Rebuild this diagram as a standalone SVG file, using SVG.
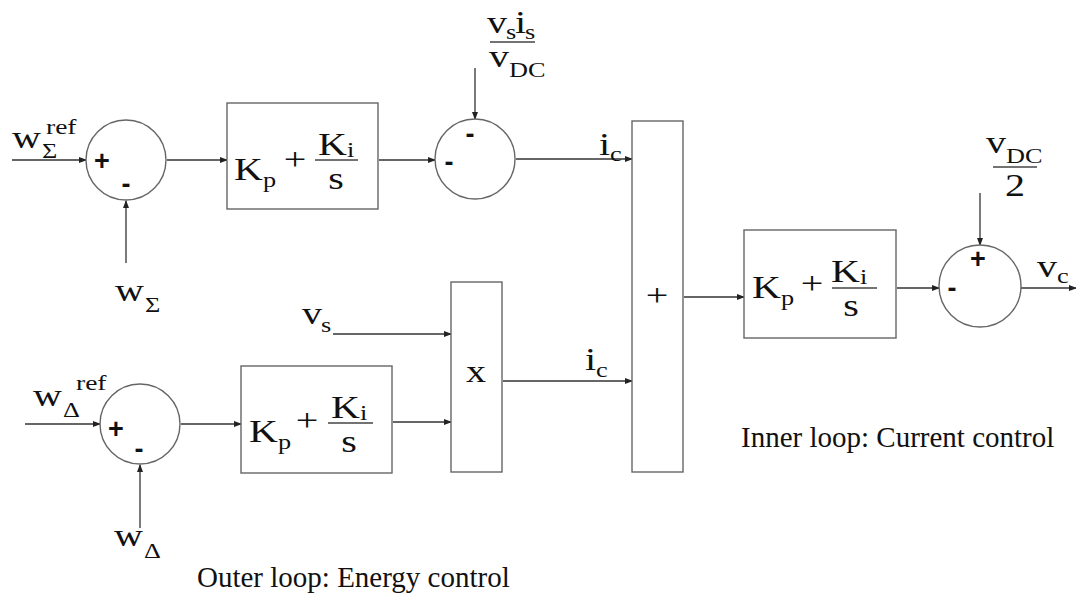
<svg xmlns="http://www.w3.org/2000/svg" width="1076" height="601" viewBox="0 0 1076 601">
<style>
.m{font-family:"Liberation Serif","Times New Roman",serif;fill:#111}
.b{font-size:32px}
.s{font-size:21px}
.sp{font-size:22px}
.sg{font-family:"Liberation Sans",Arial,sans-serif;font-size:27px;font-weight:bold;fill:#111;text-anchor:middle}
.t{font-family:"Liberation Serif","Times New Roman",serif;font-size:29px;fill:#111}
.shape{fill:#fff;stroke:#666;stroke-width:1.4}
.bar{stroke:#444;stroke-width:1.4}
.ln{stroke:#333;stroke-width:1.3;fill:none}
.mid{text-anchor:middle}
</style>
<defs>
<marker id="ah" markerWidth="8" markerHeight="6" refX="7" refY="3" orient="auto" markerUnits="userSpaceOnUse">
<path d="M0,0 L8,3 L0,6 z" fill="#222"/>
</marker>
</defs>
<rect width="1076" height="601" fill="#fff"/>

<g id="connectors">
<line class="ln" x1="12" y1="160" x2="86" y2="160" marker-end="url(#ah)"/>
<line class="ln" x1="126" y1="263" x2="126" y2="201" marker-end="url(#ah)"/>
<line class="ln" x1="167" y1="160" x2="227" y2="160" marker-end="url(#ah)"/>
<line class="ln" x1="379" y1="160" x2="435" y2="160" marker-end="url(#ah)"/>
<line class="ln" x1="475" y1="68" x2="475" y2="119" marker-end="url(#ah)"/>
<line class="ln" x1="516" y1="159" x2="632" y2="159" marker-end="url(#ah)"/>
<line class="ln" x1="684" y1="297" x2="744" y2="297" marker-end="url(#ah)"/>
<line class="ln" x1="897" y1="288" x2="939" y2="288" marker-end="url(#ah)"/>
<line class="ln" x1="980" y1="193" x2="980" y2="245" marker-end="url(#ah)"/>
<line class="ln" x1="1021" y1="288" x2="1076" y2="288" marker-end="url(#ah)"/>
<line class="ln" x1="25" y1="424" x2="100" y2="424" marker-end="url(#ah)"/>
<line class="ln" x1="140" y1="528" x2="140" y2="465" marker-end="url(#ah)"/>
<line class="ln" x1="181" y1="424" x2="241" y2="424" marker-end="url(#ah)"/>
<line class="ln" x1="393" y1="422" x2="451" y2="422" marker-end="url(#ah)"/>
<line class="ln" x1="333" y1="334" x2="451" y2="334" marker-end="url(#ah)"/>
<line class="ln" x1="503" y1="381" x2="632" y2="381" marker-end="url(#ah)"/>
</g>

<g id="label-wsigma-ref">
<text class="m b" transform="translate(12,148) scale(1.25,1)">w</text>
<text class="m s" transform="translate(42,158) scale(1.25,1)">Σ</text>
<text class="m sp" transform="translate(46,134) scale(1.25,1)">ref</text>
</g>
<g id="label-wsigma">
<text class="m b" transform="translate(115,301) scale(1.25,1)">w</text>
<text class="m s" transform="translate(145,312) scale(1.25,1)">Σ</text>
</g>

<g id="sum1">
<circle class="shape" cx="126" cy="160" r="40"/>
<text class="sg" x="102" y="170">+</text>
<text class="sg" x="126" y="193">-</text>
</g>

<g id="pi1">
<rect class="shape" x="227" y="103" width="151" height="106"/>
<text class="m b" transform="translate(234,180) scale(1.25,1)">K</text>
<text class="m s" transform="translate(263,187) scale(1.25,1)">p</text>
<text class="m b mid" transform="translate(295,170) scale(1.25,1)">+</text>
<line class="bar" x1="315" y1="160" x2="358" y2="160"/>
<text class="m b" transform="translate(318,155) scale(1.25,1)">K</text>
<text class="m s" transform="translate(347,157) scale(1.25,1)">i</text>
<text class="m b mid" transform="translate(336,189) scale(1.25,1)">s</text>
</g>

<g id="label-vsis-vdc">
<text class="m b" transform="translate(487,33) scale(1.25,1)">v</text>
<text class="m s" transform="translate(506,39) scale(1.25,1)">s</text>
<text class="m b" transform="translate(515,33) scale(1.25,1)">i</text>
<text class="m s" transform="translate(525,39) scale(1.25,1)">s</text>
<line class="bar" x1="490" y1="42" x2="535" y2="42"/>
<text class="m b" transform="translate(489,67) scale(1.25,1)">v</text>
<text class="m s" transform="translate(509,77) scale(1.25,1)">DC</text>
</g>

<g id="sum2">
<circle class="shape" cx="475" cy="159" r="40"/>
<text class="sg" x="470" y="143">-</text>
<text class="sg" x="449" y="171">-</text>
</g>

<g id="label-ic-top">
<text class="m b" transform="translate(599,155) scale(1.25,1)">i</text>
<text class="m s" transform="translate(610,161) scale(1.25,1)">c</text>
</g>

<g id="sumbox">
<rect class="shape" x="632" y="121" width="51" height="351"/>
<text class="m b mid" transform="translate(657,306) scale(1.25,1)">+</text>
</g>

<g id="pi3">
<rect class="shape" x="744" y="230" width="152" height="108"/>
<text class="m b" transform="translate(752,298) scale(1.25,1)">K</text>
<text class="m s" transform="translate(781,305) scale(1.25,1)">p</text>
<text class="m b mid" transform="translate(812,294) scale(1.25,1)">+</text>
<line class="bar" x1="832" y1="288" x2="877" y2="288"/>
<text class="m b" transform="translate(831,282) scale(1.25,1)">K</text>
<text class="m s" transform="translate(860,284) scale(1.25,1)">i</text>
<text class="m b mid" transform="translate(851,316) scale(1.25,1)">s</text>
</g>

<g id="label-vdc-2">
<text class="m b" transform="translate(986,153) scale(1.25,1)">v</text>
<text class="m s" transform="translate(1006,163) scale(1.25,1)">DC</text>
<line class="bar" x1="993" y1="167" x2="1037" y2="167"/>
<text class="m b mid" transform="translate(1015,196) scale(1.25,1)">2</text>
</g>

<g id="sum3">
<circle class="shape" cx="980" cy="286" r="41"/>
<text class="sg" x="978" y="268">+</text>
<text class="sg" x="952" y="297">-</text>
</g>

<g id="label-vc">
<text class="m b" transform="translate(1037,277) scale(1.25,1)">v</text>
<text class="m s" transform="translate(1057,283) scale(1.25,1)">c</text>
</g>

<g id="label-wdelta-ref">
<text class="m b" transform="translate(33,406) scale(1.25,1)">w</text>
<text class="m s" transform="translate(63,417) scale(1.25,1)">Δ</text>
<text class="m sp" transform="translate(76,390) scale(1.25,1)">ref</text>
</g>
<g id="label-wdelta">
<text class="m b" transform="translate(114,546) scale(1.25,1)">w</text>
<text class="m s" transform="translate(144,558) scale(1.25,1)">Δ</text>
</g>

<g id="sum4">
<circle class="shape" cx="140" cy="424" r="40"/>
<text class="sg" x="116" y="438">+</text>
<text class="sg" x="139" y="458">-</text>
</g>

<g id="pi4">
<rect class="shape" x="241" y="366" width="151" height="107"/>
<text class="m b" transform="translate(249,442) scale(1.25,1)">K</text>
<text class="m s" transform="translate(278,449) scale(1.25,1)">p</text>
<text class="m b mid" transform="translate(307,431) scale(1.25,1)">+</text>
<line class="bar" x1="328" y1="423" x2="373" y2="423"/>
<text class="m b" transform="translate(331,418) scale(1.25,1)">K</text>
<text class="m s" transform="translate(360,420) scale(1.25,1)">i</text>
<text class="m b mid" transform="translate(349,452) scale(1.25,1)">s</text>
</g>

<g id="label-vs">
<text class="m b" transform="translate(302,324) scale(1.25,1)">v</text>
<text class="m s" transform="translate(321,332) scale(1.25,1)">s</text>
</g>

<g id="mult">
<rect class="shape" x="451" y="282" width="51" height="190"/>
<text class="m b mid" transform="translate(476,382) scale(1.25,1)">x</text>
</g>

<g id="label-ic-bottom">
<text class="m b" transform="translate(585,370) scale(1.25,1)">i</text>
<text class="m s" transform="translate(596,377) scale(1.25,1)">c</text>
</g>

<g id="captions">
<text class="t" x="741" y="447">Inner loop: Current control</text>
<text class="t" x="197" y="587">Outer loop: Energy control</text>
</g>
</svg>
